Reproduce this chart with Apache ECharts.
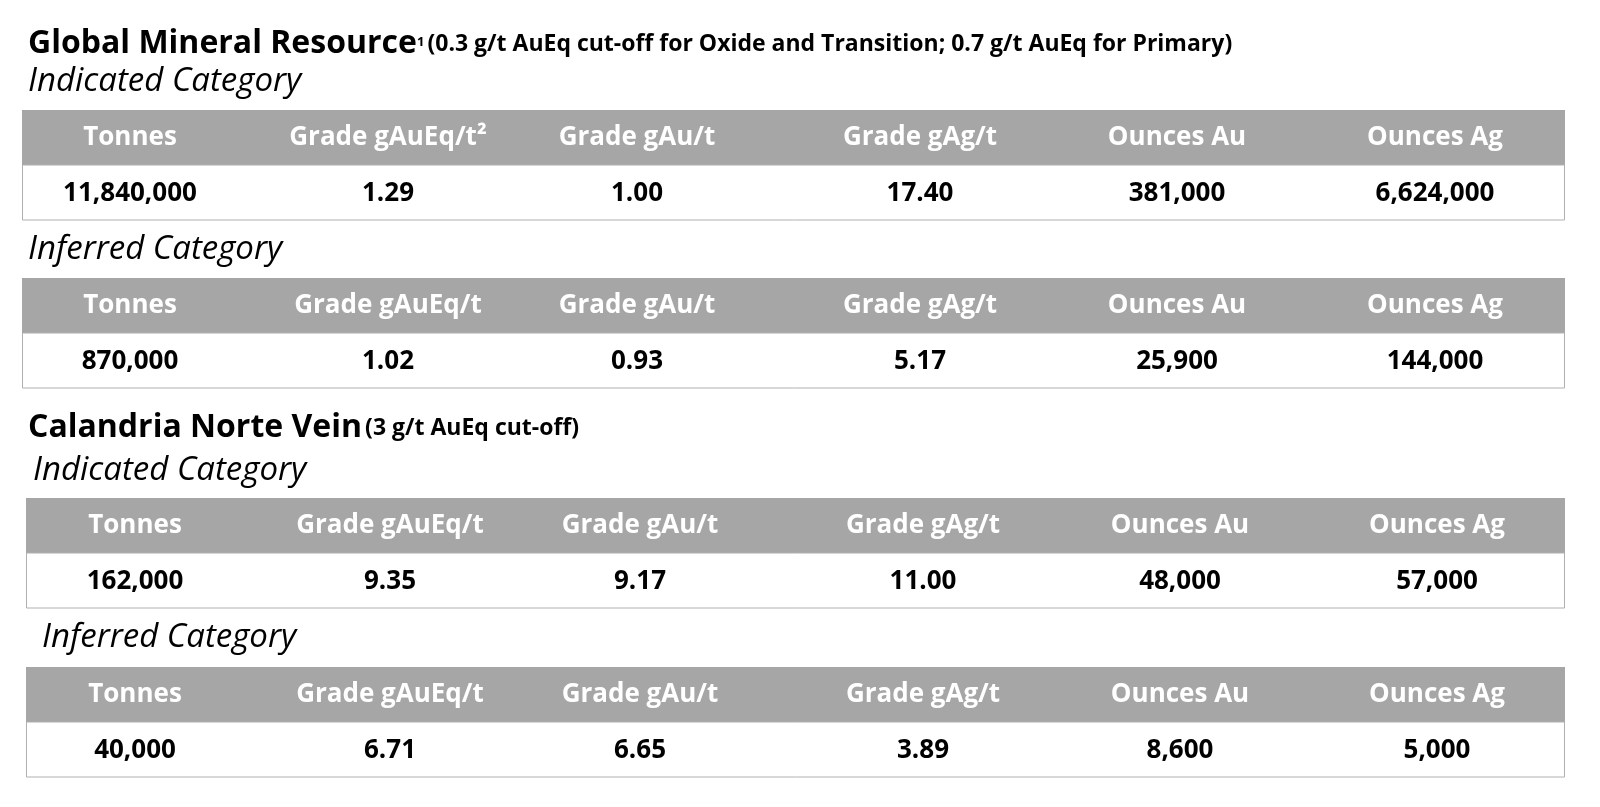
<!DOCTYPE html>
<html>
<head>
<meta charset="utf-8">
<script src="https://cdn.jsdelivr.net/npm/echarts@6/dist/echarts.min.js"></script>
<style>
  html, body { margin: 0; padding: 0; background: #fff; }
  #chart { width: 1600px; height: 807px; }
</style>
</head>
<body>
<div id="chart"></div>
<script>
// data
const headers = ['Tonnes', 'Grade gAuEq/t', 'Grade gAu/t', 'Grade gAg/t', 'Ounces Au', 'Ounces Ag'];
const globalIndicated = ['11,840,000', '1.29', '1.00', '17.40', '381,000', '6,624,000'];
const globalInferred = ['870,000', '1.02', '0.93', '5.17', '25,900', '144,000'];
const calandriaIndicated = ['162,000', '9.35', '9.17', '11.00', '48,000', '57,000'];
const calandriaInferred = ['40,000', '6.71', '6.65', '3.89', '8,600', '5,000'];

const FONT = '"Open Sans", "Noto Sans", sans-serif';
const colX = [130, 388, 637, 920, 1177, 1435];
const colX2 = [135, 390, 640, 923, 1180, 1437];

const chart = echarts.init(document.getElementById('chart'));
const els = [];

function text(x, y, str, size, opts) {
  els.push({
    type: 'text', x: x, y: y,
    style: Object.assign({
      text: str, fontSize: size, fontFamily: FONT, fontWeight: 'bold',
      fill: '#000', verticalAlign: 'middle', align: 'left'
    }, opts || {})
  });
}

function table(top, left, cols, values, firstHeaderSup) {
  els.push({ type: 'rect', shape: { x: left, y: top, width: 1565 - left, height: 55 }, style: { fill: '#a6a6a6' } });
  els.push({ type: 'rect', shape: { x: left + 0.5, y: top + 55, width: 1565 - left - 1, height: 55 },
    style: { fill: '#fff', stroke: '#b0b0b0', lineWidth: 1 } });
  headers.forEach((h, i) => {
    let label = h;
    if (firstHeaderSup && i === 1) label = h + '²';
    text(cols[i], top + 28, label, 26, { fill: '#fff', align: 'center' });
    text(cols[i], top + 84, values[i], 26, { align: 'center' });
  });
}

// section 1
els.push({
  type: 'text', x: 28, y: 44,
  style: {
    text: '{t|Global Mineral Resource}{s|1} {p|(0.3 g/t AuEq cut-off for Oxide and Transition; 0.7 g/t AuEq for Primary)}',
    verticalAlign: 'middle', fontFamily: FONT,
    rich: {
      t: { fontSize: 32, fontWeight: 'bold', fontFamily: FONT, fill: '#000' },
      s: { fontSize: 13, fontWeight: 'bold', fontFamily: FONT, fill: '#000', padding: [0, 0, 4, 0] },
      p: { fontSize: 23, fontWeight: 'bold', fontFamily: FONT, fill: '#000' }
    }
  }
});
text(28, 82, 'Indicated Category', 33, { fontWeight: 'normal', fontStyle: 'italic' });
table(110, 22, colX, globalIndicated, true);
text(28, 250, 'Inferred Category', 33, { fontWeight: 'normal', fontStyle: 'italic' });
table(278, 22, colX, globalInferred, false);

// section 2
els.push({
  type: 'text', x: 28, y: 428,
  style: {
    text: '{t|Calandria Norte Vein} {p|(3 g/t AuEq cut-off)}',
    verticalAlign: 'middle', fontFamily: FONT,
    rich: {
      t: { fontSize: 32, fontWeight: 'bold', fontFamily: FONT, fill: '#000' },
      p: { fontSize: 23, fontWeight: 'bold', fontFamily: FONT, fill: '#000' }
    }
  }
});
text(33, 471, 'Indicated Category', 33, { fontWeight: 'normal', fontStyle: 'italic' });
table(498, 26, colX2, calandriaIndicated, false);
text(42, 638, 'Inferred Category', 33, { fontWeight: 'normal', fontStyle: 'italic' });
table(667, 26, colX2, calandriaInferred, false);

chart.setOption({ backgroundColor: '#fff', graphic: { elements: els } });
window.addEventListener('resize', () => chart.resize());
</script>
</body>
</html>
